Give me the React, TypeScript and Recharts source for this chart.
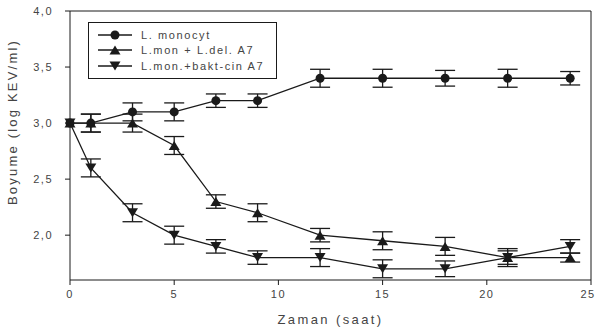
import React from "react";
import {
  LineChart,
  Line,
  XAxis,
  YAxis,
  ErrorBar,
  ReferenceLine,
} from "recharts";

// sampling times (saat)
const hours = [0, 1, 3, 5, 7, 9, 12, 15, 18, 21, 24];

// growth, log KEV/ml
const monocyt = [3.0, 3.0, 3.1, 3.1, 3.2, 3.2, 3.4, 3.4, 3.4, 3.4, 3.4];
const monocytErr = [0, 0.08, 0.08, 0.08, 0.06, 0.06, 0.08, 0.08, 0.07, 0.08, 0.06];

const withDel = [3.0, 3.0, 3.0, 2.8, 2.3, 2.2, 2.0, 1.95, 1.9, 1.8, 1.8];
const withDelErr = [0, 0.08, 0.08, 0.08, 0.06, 0.08, 0.06, 0.08, 0.08, 0.06, 0.04];

const withBakt = [3.0, 2.6, 2.2, 2.0, 1.9, 1.8, 1.8, 1.7, 1.7, 1.8, 1.9];
const withBaktErr = [0, 0.08, 0.08, 0.08, 0.06, 0.06, 0.08, 0.08, 0.07, 0.08, 0.06];

const seriesNames = ["L. monocyt", "L.mon + L.del. A7", "L.mon.+bakt-cin A7"];

const xTicks = [0, 5, 10, 15, 20, 25];
const yTicks = [2.0, 2.5, 3.0, 3.5, 4.0];

const rows = hours.map((t, i) => ({
  t,
  mono: monocyt[i],
  monoErr: monocytErr[i],
  del: withDel[i],
  delErr: withDelErr[i],
  bakt: withBakt[i],
  baktErr: withBaktErr[i],
}));

const INK = "#1a1a1a";
const TEXT = "#444";
const FONT = "'Liberation Sans', Arial, sans-serif";

type Shape = "circle" | "up" | "down";

const Marker = ({ cx, cy, shape }: { cx: number; cy: number; shape: Shape }) => {
  if (shape === "circle") return <circle cx={cx} cy={cy} r={4.5} fill={INK} />;
  const h = 9;
  const w = 11;
  const pts =
    shape === "up"
      ? `${cx - w / 2},${cy + h / 2} ${cx + w / 2},${cy + h / 2} ${cx},${cy - h / 2}`
      : `${cx - w / 2},${cy - h / 2} ${cx + w / 2},${cy - h / 2} ${cx},${cy + h / 2}`;
  return <polygon points={pts} fill={INK} />;
};

const dotFor = (shape: Shape) => (props: any) => (
  <Marker key={`${shape}-${props.index}`} cx={props.cx} cy={props.cy} shape={shape} />
);

const shapes: Shape[] = ["circle", "up", "down"];

// boxed legend laid over the plot's upper-left corner
const LegendBox = () => (
  <div
    style={{
      position: "absolute",
      left: 88,
      top: 22,
      border: `1px solid ${INK}`,
      width: 187,
      height: 51,
      paddingTop: 4,
      background: "#fff",
    }}
  >
    {seriesNames.map((name, i) => (
      <div key={name} style={{ display: "flex", alignItems: "center", height: 15.5 }}>
        <svg width={50} height={14} style={{ display: "block" }}>
          <line x1={9} x2={43} y1={7} y2={7} stroke={INK} strokeWidth={1.3} />
          <Marker cx={26} cy={7} shape={shapes[i]} />
        </svg>
        <span
          style={{
            fontFamily: FONT,
            fontSize: 11,
            letterSpacing: 1.6,
            color: TEXT,
            marginLeft: 2,
            whiteSpace: "nowrap",
          }}
        >
          {name}
        </span>
      </div>
    ))}
  </div>
);

// y title sits a little above the plot's middle
const YTitle = () => (
  <text
    x={12}
    y={122}
    transform="rotate(-90 12 122)"
    textAnchor="middle"
    dominantBaseline="central"
    fontFamily={FONT}
    fontSize={13}
    fill={TEXT}
    letterSpacing={2.2}
  >
    Boyume (log KEV/ml)
  </text>
);

const App = () => {
  const tick = { fontFamily: FONT, fontSize: 11, fill: TEXT, letterSpacing: 1.5 };
  return (
    <div style={{ position: "absolute", left: 0, top: 0, width: 595, height: 328, background: "#fff" }}>
      <LineChart
        width={595}
        height={328}
        data={rows}
        margin={{ top: 11, right: 4, left: 0, bottom: 0 }}
      >
        <XAxis
          dataKey="t"
          type="number"
          domain={[0, 25]}
          ticks={xTicks}
          height={48}
          tickSize={5}
          tickMargin={5}
          stroke={INK}
          tick={tick}
          label={{
            value: "Zaman (saat)",
            position: "insideBottom",
            offset: 4,
            style: { fontFamily: FONT, fontSize: 13, fill: TEXT, letterSpacing: 2.4 },
          }}
        />
        <YAxis
          type="number"
          domain={[1.6, 4.0]}
          ticks={yTicks}
          width={70}
          tickSize={5}
          tickMargin={12}
          stroke={INK}
          tick={tick}
          tickFormatter={(v: number) => v.toFixed(1).replace(".", ",")}
          label={<YTitle />}
        />
        <ReferenceLine y={4} stroke={INK} />
        <ReferenceLine x={25} stroke={INK} />
        <Line
          name={seriesNames[0]}
          dataKey="mono"
          stroke={INK}
          strokeWidth={1.3}
          dot={dotFor("circle")}
          activeDot={false}
          isAnimationActive={false}
        >
          <ErrorBar dataKey="monoErr" width={10} stroke={INK} strokeWidth={1.3} direction="y" />
        </Line>
        <Line
          name={seriesNames[1]}
          dataKey="del"
          stroke={INK}
          strokeWidth={1.3}
          dot={dotFor("up")}
          activeDot={false}
          isAnimationActive={false}
        >
          <ErrorBar dataKey="delErr" width={10} stroke={INK} strokeWidth={1.3} direction="y" />
        </Line>
        <Line
          name={seriesNames[2]}
          dataKey="bakt"
          stroke={INK}
          strokeWidth={1.3}
          dot={dotFor("down")}
          activeDot={false}
          isAnimationActive={false}
        >
          <ErrorBar dataKey="baktErr" width={10} stroke={INK} strokeWidth={1.3} direction="y" />
        </Line>
      </LineChart>
      <LegendBox />
    </div>
  );
};

export default App;
